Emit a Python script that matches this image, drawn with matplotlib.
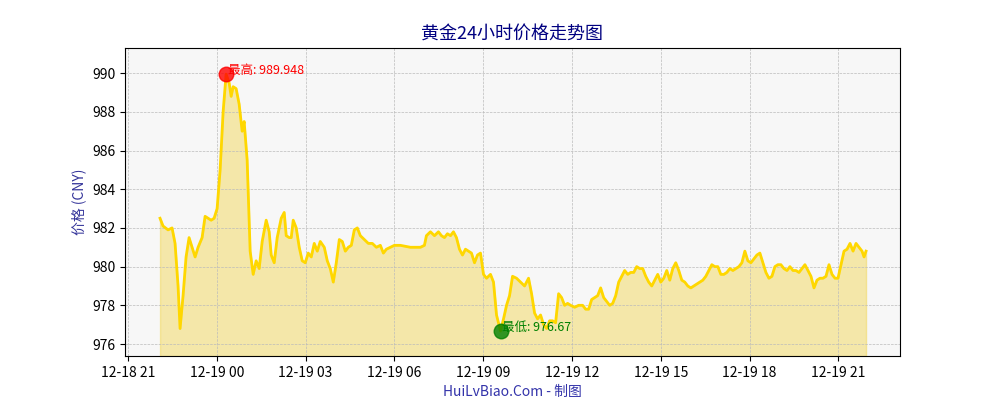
import numpy as np
import pandas as pd
import matplotlib
matplotlib.use("Agg")
import matplotlib.pyplot as plt
import matplotlib.dates as mdates

plt.rcParams['font.family'] = ['Noto Sans CJK SC', 'DejaVu Sans']

start = pd.Timestamp("2024-12-18 22:05")
minutes = [0, 6, 16, 24, 30, 36, 40, 46, 52, 58, 64, 70, 76, 84, 90, 96, 102, 108, 114, 120,
           126, 132, 138, 142, 146, 152, 158, 164, 168, 174, 180, 186, 192, 198, 204, 212, 218,
           222, 228, 234, 242, 248, 252, 258, 262, 266, 272, 278, 284, 290, 296, 302, 308, 314,
           320, 328, 334, 340, 346, 352, 358, 364, 370, 376, 382, 388, 394, 400, 408, 416, 424,
           432, 440, 446, 452, 460, 468, 480, 500, 520, 528, 532, 540, 548, 556, 562, 568, 574,
           580, 586, 592, 598, 604, 610, 616, 622, 628, 634, 640, 646, 652, 660, 666, 672, 680,
           686, 692, 698, 704, 712, 720, 728, 736, 742, 748, 754, 760, 766, 772, 778, 784, 790,
           796, 802, 808, 814, 820, 828, 836, 844, 850, 856, 862, 868, 874, 880, 886, 892, 898,
           904, 910, 916, 922, 928, 934, 940, 946, 952, 958, 964, 970, 976, 982, 988, 994, 1000,
           1006, 1012, 1018, 1024, 1030, 1036, 1042, 1048, 1054, 1060, 1066, 1072, 1078, 1084,
           1090, 1096, 1102, 1108, 1114, 1120, 1126, 1132, 1138, 1144, 1150, 1156, 1162, 1168,
           1174, 1180, 1186, 1192, 1198, 1204, 1210, 1216, 1222, 1228, 1234, 1240, 1246, 1252,
           1258, 1264, 1270, 1276, 1282, 1288, 1294, 1300, 1306, 1312, 1318, 1324, 1330, 1336,
           1342, 1348, 1354, 1360, 1366, 1372, 1378, 1384, 1390, 1396, 1402, 1406, 1410]
prices = [982.5, 982.1, 981.9, 982.0, 981.2, 979.0, 976.8, 978.5, 980.5, 981.5, 981.0, 980.5,
          981.0, 981.5, 982.6, 982.5, 982.4, 982.5, 983.0, 985.0, 988.0, 989.948, 989.5, 988.8,
          989.3, 989.2, 988.4, 987.0, 987.5, 985.5, 980.8, 979.6, 980.3, 979.9, 981.3, 982.4,
          981.8, 980.6, 980.2, 981.5, 982.5, 982.8, 981.6, 981.5, 981.5, 982.4, 982.0, 981.0,
          980.3, 980.2, 980.7, 980.5, 981.2, 980.8, 981.3, 981.0, 980.3, 979.9, 979.2, 980.2,
          981.4, 981.3, 980.8, 981.0, 981.1, 981.9, 982.0, 981.6, 981.4, 981.2, 981.2, 981.0,
          981.1, 980.7, 980.9, 981.0, 981.1, 981.1, 981.0, 981.0, 981.1, 981.6, 981.8, 981.6,
          981.8, 981.6, 981.5, 981.7, 981.6, 981.8, 981.5, 980.9, 980.6, 980.9, 980.8, 980.7,
          980.2, 980.6, 980.7, 979.6, 979.4, 979.6, 979.2, 977.5, 976.67, 977.3, 978.0, 978.5,
          979.5, 979.4, 979.2, 979.0, 979.4, 978.6, 977.6, 977.3, 977.5, 977.0, 976.8, 977.2,
          977.2, 977.1, 978.6, 978.4, 978.0, 978.1, 978.0, 977.9, 978.0, 978.0, 977.8, 977.8,
          978.3, 978.4, 978.5, 978.9, 978.4, 978.2, 978.0, 978.1, 978.5, 979.2, 979.5, 979.8,
          979.6, 979.7, 979.7, 980.0, 979.9, 979.9, 979.5, 979.2, 979.0, 979.3, 979.6, 979.2,
          979.4, 979.8, 979.3, 979.9, 980.2, 979.8, 979.3, 979.2, 979.0, 978.9, 979.0, 979.1,
          979.2, 979.3, 979.5, 979.8, 980.1, 980.0, 980.0, 979.6, 979.6, 979.7, 979.9, 979.8,
          979.9, 980.0, 980.2, 980.8, 980.3, 980.2, 980.4, 980.6, 980.7, 980.2, 979.7, 979.4,
          979.5, 980.0, 980.1, 980.1, 979.9, 979.8, 980.0, 979.8, 979.8, 979.7, 979.9, 980.1,
          979.8, 979.5, 978.9, 979.3, 979.4, 979.4, 979.5, 980.1, 979.6, 979.4, 979.4, 980.1,
          980.8, 980.9, 981.2, 980.8, 981.2, 981.0, 980.8, 980.5, 980.8]

n = min(len(minutes), len(prices))
times = start + pd.to_timedelta(np.array(minutes[:n]) * 1.015, unit="min")
vals = np.array(prices[:n])

fig = plt.figure(figsize=(10, 4), dpi=100)
ax = fig.add_axes([0.125, 0.11, 0.775, 0.77])
ax.set_facecolor("#f7f7f7")
ax.plot(times, vals, color="#FFD700", lw=2)
ax.fill_between(times, vals, 975.38, color="#F2D54A", alpha=0.45)

imax, imin = vals.argmax(), vals.argmin()
ax.scatter(times[imax], vals[imax], s=110, color="red", alpha=0.8, zorder=5)
ax.scatter(times[imin], vals[imin], s=110, color="green", alpha=0.8, zorder=5)
ax.annotate(f"最高: {vals[imax]}", (times[imax], vals[imax]), xytext=(1, 0),
            textcoords="offset points", color="red", fontsize=9)
ax.annotate(f"最低: {vals[imin]}", (times[imin], vals[imin]), xytext=(1, 0),
            textcoords="offset points", color="green", fontsize=9)

ax.set_xlim(pd.Timestamp("2024-12-18 20:54"), pd.Timestamp("2024-12-19 23:05"))
ax.set_ylim(975.38, 991.3)
ax.xaxis.set_major_locator(mdates.HourLocator(byhour=range(0, 24, 3)))
ax.xaxis.set_major_formatter(mdates.DateFormatter("%m-%d %H"))
ax.grid(True, linestyle="--", linewidth=0.5, color="#bbbbbb")
ax.set_title("黄金24小时价格走势图", color="#000080", fontsize=13)
ax.set_ylabel("价格 (CNY)", color="#333399")
ax.set_xlabel("HuiLvBiao.Com - 制图", color="#3333aa", labelpad=4)
fig.savefig("out.png")
